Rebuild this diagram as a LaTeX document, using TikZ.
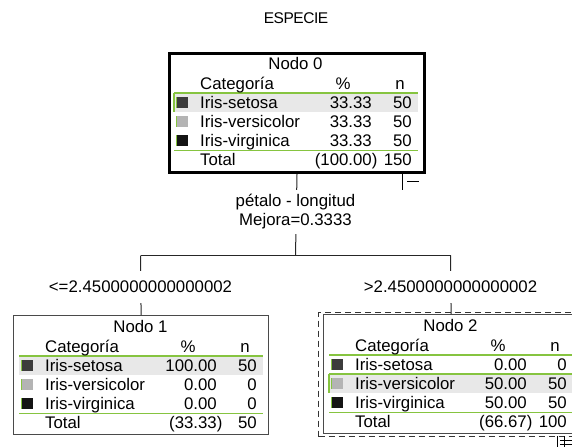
\documentclass[tikz,border=0pt]{standalone}
\usepackage{fontspec}
\setmainfont{Liberation Sans}

\definecolor{leafgreen}{HTML}{86C440}
\definecolor{rowshade}{HTML}{E8E8E8}
\definecolor{framegray}{HTML}{4A4A4A}
\definecolor{swsetosa}{HTML}{3C3C3C}
\definecolor{swversicolor}{HTML}{B4B4B4}
\definecolor{swvirginica}{HTML}{141414}

\newcommand{\cellfont}{\fontsize{16.8}{19}\selectfont}

% one category row of a tree-node table
% #1 name prefix, #2 row centre, #3 swatch colour, #4 label, #5 percent, #6 count
\newcommand{\catrow}[6]{%
  \fill[#3] (9,#2-5.5) rectangle (20,#2+5.5);
  \draw[leafgreen, line width=0.8pt] (8,#2-5.5) -- (8,#2+5.5);
  \node[cell, anchor=west] (#1lab) at (32,#2) {#4};
  \node[cell, anchor=east] (#1pct) at (204,#2) {#5};
  \node[cell, anchor=east] (#1n) at (244,#2) {#6};
}

% header, rules and total line shared by every table
% #1 name prefix, #2 title, #3 total percent, #4 total count
\newcommand{\tablebody}[4]{%
  \draw[greenrule] (6,41) -- (250,41);
  \draw[greenrule] (6,98.5) -- (250,98.5);
  \node[cell] (#1title) at (127.5,11) {#2};
  \node[cell, anchor=west] (#1cat) at (32,31) {Categoría};
  \node[cell] (#1pcthead) at (175,31) {\%};
  \node[cell] (#1nhead) at (232,31) {n};
  \node[cell, anchor=west] (#1tot) at (32,107.5) {Total};
  \node[cell, anchor=east] (#1totpct) at (204,107.5) {(#3\rlap{)}};
  \node[cell, anchor=east] (#1totn) at (244,107.5) {#4};
}

\begin{document}
\begin{tikzpicture}[x=1pt, y=-1pt,
  cell/.style={font=\cellfont, inner sep=0pt, text height=12pt, text depth=0pt, text=black},
  greenrule/.style={draw=leafgreen, line width=1.3pt},
  tablebox/.style={draw=framegray, line width=1.2pt, minimum width=255pt,
    minimum height=119pt, anchor=north west, inner sep=0pt},
  connector/.style={draw=black!85, line width=1pt},
  splitlabel/.style={font=\cellfont, fill=white, align=center, inner xsep=2pt, inner ysep=5pt},
  branchlabel/.style={font=\cellfont, fill=white, inner xsep=2pt, inner ysep=10pt,
    text height=12pt, text depth=0pt}]

\useasboundingbox (0,0) rectangle (572,447);
\clip (0,0) rectangle (572,447);

% target variable
\node[font=\fontsize{15.5}{17}\selectfont, inner sep=0pt] (target) at (296,18)
  {\addfontfeature{LetterSpace=-3}ESPECIE};

% ---------- root node ----------
\begin{scope}[shift={(168,52)}]
  \fill[rowshade] (6,41) rectangle (250,60);
  \draw[leafgreen, line width=1.2pt] (6,41) -- (6,60);
  \tablebody{a}{Nodo 0}{100.00}{150}
  \catrow{as}{50.5}{swsetosa}{Iris-setosa}{33.33}{50}
  \catrow{ae}{69.5}{swversicolor}{Iris-versicolor}{33.33}{50}
  \catrow{ai}{88.5}{swvirginica}{Iris-virginica}{33.33}{50}
  \node[tablebox, draw=black, line width=3pt] (n0) at (0,0) {};
\end{scope}
% collapse marker of the root
\draw[black, line width=0.9pt] (402,173) -- (402,190);
\draw[black, line width=0.9pt] (407,181) -- (419,181);

% ---------- left child ----------
\begin{scope}[shift={(13,315)}]
  \fill[rowshade] (6,41) rectangle (250,60);
  \tablebody{b}{Nodo 1}{33.33}{50}
  \catrow{bs}{50.5}{swsetosa}{Iris-setosa}{100.00}{50}
  \catrow{be}{69.5}{swversicolor}{Iris-versicolor}{0.00}{0}
  \catrow{bi}{88.5}{swvirginica}{Iris-virginica}{0.00}{0}
  \node[tablebox] (n1) at (0,0) {};
\end{scope}

% ---------- right child (selected) ----------
\node[draw=black!80, line width=1pt, dash pattern=on 6pt off 4pt,
  minimum width=264pt, minimum height=124pt, anchor=north west, inner sep=0pt]
  (sel2) at (318,312) {};
\begin{scope}[shift={(323,314)}]
  \fill[rowshade] (6,60) rectangle (250,79);
  \draw[greenrule] (6,60) -- (250,60);
  \draw[leafgreen, line width=1.2pt] (6,60) -- (6,79);
  \tablebody{c}{Nodo 2}{66.67}{100}
  \catrow{cs}{50.5}{swsetosa}{Iris-setosa}{0.00}{0}
  \catrow{ce}{69.5}{swversicolor}{Iris-versicolor}{50.00}{50}
  \catrow{ci}{88.5}{swvirginica}{Iris-virginica}{50.00}{50}
  \node[tablebox] (n2) at (0,0) {};
\end{scope}
% expand marker of the right child
\draw[black, line width=0.9pt] (557,436) -- (557,447);
\draw[black, line width=0.7pt] (564,436) -- (564,447);
\draw[black, line width=0.7pt] (560,440) -- (572,440);
\draw[black, line width=0.7pt] (560,444.5) -- (572,444.5);

% ---------- connectors ----------
\coordinate (hub) at (295.5,255.5);
\coordinate (armL) at (140.5,255.5);
\coordinate (armR) at (450.5,255.5);
\draw[connector] (n0.south) -- (hub);
\draw[connector] (armL) -- (armR);
\draw[connector] (armL) -- (n1.north);
\draw[connector] (armR) -- (n2.north);

% split and branch labels
\node[splitlabel] (rule0) at (295.5,212) {pétalo - longitud\\Mejora=0.3333};
\node[branchlabel] (condL) at (140.5,286.5) {<=2.4500000000000002};
\node[branchlabel] (condR) at (450.5,286.5) {>2.4500000000000002};

\end{tikzpicture}
\end{document}
